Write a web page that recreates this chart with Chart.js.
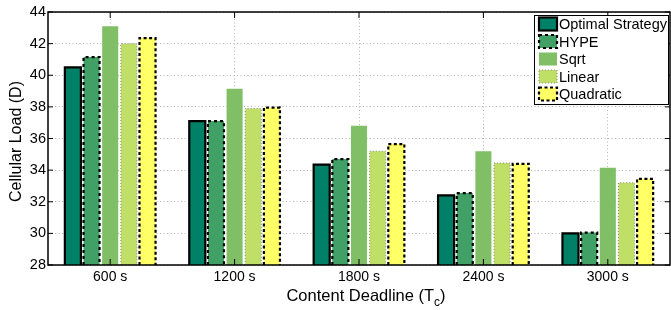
<!DOCTYPE html>
<html>
<head>
<meta charset="utf-8">
<script src="https://cdn.jsdelivr.net/npm/chart.js@4"></script>
<style>
html, body { margin: 0; padding: 0; background: #fff; }
</style>
</head>
<body>
<canvas id="bar-chart-load" width="671" height="310"></canvas>
<script>
var deadlines = ["600 s", "1200 s", "1800 s", "2400 s", "3000 s"];
var optimal = [40.5, 37.1, 34.35, 32.4, 30.0];
var hype = [41.15, 37.1, 34.7, 32.55, 30.05];
var sqrtLoad = [43.1, 39.15, 36.8, 35.2, 34.15];
var linearLoad = [42.0, 37.9, 35.2, 34.45, 33.2];
var quadratic = [42.35, 37.95, 35.65, 34.4, 33.45];
var yMin = 28, yMax = 44, yStep = 2;

var FONT = "'Liberation Sans', Arial, Helvetica, sans-serif";

// outline style per dataset (Chart.js bars have no dashed borders)
var outlines = [
    { color: "#000", width: 2.2, dash: [] },
    { color: "#000", width: 2.2, dash: [3, 3] },
    null,
    { color: "#8a8a8a", width: 1, dash: [1, 2] },
    { color: "#000", width: 2.2, dash: [3, 2.5] }
];

var barOutlines = {
    id: "barOutlines",
    afterDatasetsDraw: function (chart) {
        var ctx = chart.ctx, a = chart.chartArea;
        chart.data.datasets.forEach(function (ds, i) {
            var st = outlines[i];
            if (!st) return;
            var meta = chart.getDatasetMeta(i);
            ctx.save();
            ctx.strokeStyle = st.color;
            ctx.lineWidth = st.width;
            ctx.setLineDash(st.dash);
            meta.data.forEach(function (bar) {
                var p = bar.getProps(["x", "y", "base", "width"], true);
                var l = p.x - p.width / 2, r = p.x + p.width / 2;
                var b = Math.min(p.base, a.bottom);
                ctx.beginPath();
                ctx.moveTo(l, b);
                ctx.lineTo(l, p.y);
                ctx.lineTo(r, p.y);
                ctx.lineTo(r, b);
                ctx.stroke();
            });
            ctx.restore();
        });
    }
};

var frame = {
    id: "frame",
    afterDraw: function (chart) {
        var ctx = chart.ctx, a = chart.chartArea;
        var xs = chart.scales.x, ys = chart.scales.y;
        ctx.save();
        ctx.strokeStyle = "#000";
        ctx.lineWidth = 1.5;
        ctx.strokeRect(a.left, a.top, a.right - a.left, a.bottom - a.top);
        ctx.lineWidth = 1;
        ctx.beginPath();
        ys.ticks.forEach(function (t) {
            var y = ys.getPixelForValue(t.value);
            ctx.moveTo(a.left, y); ctx.lineTo(a.left + 5, y);
            ctx.moveTo(a.right, y); ctx.lineTo(a.right - 5, y);
        });
        deadlines.forEach(function (d, i) {
            var x = xs.getPixelForValue(i);
            ctx.moveTo(x, a.top); ctx.lineTo(x, a.top + 6);
            ctx.moveTo(x, a.bottom); ctx.lineTo(x, a.bottom - 6);
        });
        ctx.stroke();

        // axis titles
        ctx.fillStyle = "#000";
        ctx.textBaseline = "middle";
        ctx.textAlign = "center";
        ctx.save();
        ctx.translate(17, (a.top + a.bottom) / 2 + 3);
        ctx.rotate(-Math.PI / 2);
        ctx.font = "16px " + FONT;
        ctx.fillText("Cellular Load (D)", 0, 0);
        ctx.restore();

        var main = "Content Deadline (T", sub = "c", close = ")";
        ctx.font = "16.5px " + FONT;
        var w1 = ctx.measureText(main).width, w3 = ctx.measureText(close).width;
        ctx.font = "12px " + FONT;
        var w2 = ctx.measureText(sub).width;
        var x0 = 366 - (w1 + w2 + w3) / 2, yT = 296;
        ctx.textAlign = "left";
        ctx.font = "16.5px " + FONT;
        ctx.fillText(main, x0, yT);
        ctx.font = "12px " + FONT;
        ctx.fillText(sub, x0 + w1, yT + 7);
        ctx.font = "16.5px " + FONT;
        ctx.fillText(close, x0 + w1 + w2, yT);
        ctx.restore();
    }
};

var boxLegend = {
    id: "boxLegend",
    afterDraw: function (chart) {
        var ctx = chart.ctx;
        var bx = 534, by = 15, bw = 134, bh = 89;
        ctx.save();
        ctx.fillStyle = "#fff";
        ctx.fillRect(bx, by, bw, bh);
        ctx.strokeStyle = "#000";
        ctx.lineWidth = 1;
        ctx.strokeRect(bx + 0.5, by + 0.5, bw, bh);
        chart.data.datasets.forEach(function (ds, i) {
            var cy = 24 + i * 17.5;
            var sx = 539, sw = 18, sh = 13;
            ctx.fillStyle = ds.backgroundColor;
            ctx.fillRect(sx, cy - sh / 2, sw, sh);
            var st = outlines[i];
            if (st) {
                ctx.strokeStyle = st.color;
                ctx.lineWidth = st.width;
                ctx.setLineDash(st.dash);
                ctx.strokeRect(sx, cy - sh / 2, sw, sh);
                ctx.setLineDash([]);
            }
            ctx.fillStyle = "#000";
            ctx.font = "14.5px " + FONT;
            ctx.textBaseline = "middle";
            ctx.textAlign = "left";
            ctx.fillText(ds.label, 559, cy + 1);
        });
        ctx.restore();
    }
};

var ctx = document.getElementById("bar-chart-load");
new Chart(ctx, {
    type: "bar",
    data: {
        labels: deadlines,
        datasets: [
            { label: "Optimal Strategy", data: optimal, backgroundColor: "#008066" },
            { label: "HYPE", data: hype, backgroundColor: "#40a066" },
            { label: "Sqrt", data: sqrtLoad, backgroundColor: "#80bf66" },
            { label: "Linear", data: linearLoad, backgroundColor: "#bfdf66" },
            { label: "Quadratic", data: quadratic, backgroundColor: "#ffff66" }
        ]
    },
    options: {
        responsive: false,
        animation: false,
        devicePixelRatio: 1,
        layout: { padding: { top: 12, right: 1, left: 0, bottom: 0 } },
        datasets: {
            bar: { categoryPercentage: 0.75, barPercentage: 0.86, borderWidth: 0 }
        },
        plugins: {
            legend: { display: false },
            title: { display: false },
            tooltip: { enabled: false }
        },
        scales: {
            x: {
                grid: { offset: false, drawTicks: false, color: "#b4b4b4", lineWidth: 1 },
                border: { display: false, dash: [1, 2.5] },
                ticks: { color: "#000", font: { family: FONT, size: 14 }, padding: 4 },
                afterFit: function (s) { s.height = 45; }
            },
            y: {
                min: yMin,
                max: yMax,
                grid: { drawTicks: false, color: "#b4b4b4", lineWidth: 1 },
                border: { display: false, dash: [1, 2.5] },
                ticks: { stepSize: yStep, color: "#000", font: { family: FONT, size: 14.5 }, padding: 2 },
                afterFit: function (s) { s.width = 48; }
            }
        }
    },
    plugins: [barOutlines, frame, boxLegend]
});
</script>
</body>
</html>
